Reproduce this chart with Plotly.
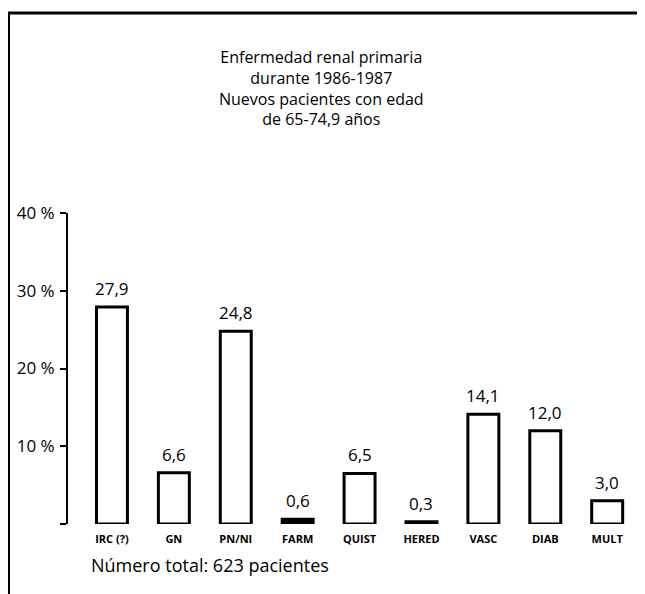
import plotly.graph_objects as go

# Datos
categorias = ["IRC (?)", "GN", "PN/NI", "FARM", "QUIST", "HERED", "VASC", "DIAB", "MULT"]
porcentajes = [27.9, 6.6, 24.8, 0.6, 6.5, 0.3, 14.1, 12.0, 3.0]
ticks_y = [0, 10, 20, 30, 40]
etiquetas_y = ["", "10 %", "20 %", "30 %", "40 %"]

lineas_titulo = ["Enfermedad renal primaria", "durante 1986-1987",
                 "Nuevos pacientes con edad", "de 65-74,9 años"]
nota = "Número total: 623 pacientes"

FUENTE = "'Open Sans', sans-serif"

# La página html tiene 8 px de margen en el body: la figura empieza en (8, 8)
OFF = 8
W, H = 645 - OFF, 594 - OFF
M_L, M_R, M_T, M_B = 68 - OFF, 5, 213 - OFF, 594 - 524
plot_w = W - M_L - M_R
plot_h = H - M_T - M_B


# posiciones en px de la página -> coordenadas "paper"
def px_x(x):
    return (x - OFF - M_L) / plot_w


def px_y(y):
    return (H - M_B - (y - OFF)) / plot_h


# las barras casi nulas se ven como un trazo negro grueso
colores = ["black" if v < 1 else "white" for v in porcentajes]

fig = go.Figure()

fig.add_trace(go.Bar(
    x=categorias,
    y=porcentajes,
    width=0.5,
    marker=dict(color=colores, line=dict(color="black", width=3)),
    cliponaxis=False,
    hoverinfo="skip",
))

anotaciones = []
# valores encima de cada barra
for cat, val in zip(categorias, porcentajes):
    anotaciones.append(dict(
        x=cat, y=val, xref="x", yref="y",
        text=f"{val:.1f}".replace(".", ","),
        xanchor="center", yanchor="bottom", yshift=5, showarrow=False,
        font=dict(family=FUENTE, size=17, color="black"),
    ))

# título en cuatro líneas
anotaciones.append(dict(
    text="<br>".join(lineas_titulo), x=px_x(321), y=px_y(88),
    xref="paper", yref="paper", xanchor="center", yanchor="middle",
    showarrow=False, font=dict(family=FUENTE, size=16, color="black"),
))

anotaciones.append(dict(
    text=nota, x=px_x(89), y=px_y(565), xref="paper", yref="paper",
    xanchor="left", yanchor="middle", showarrow=False,
    font=dict(family=FUENTE, size=18, color="black"),
))

fig.update_layout(
    width=W,
    height=H,
    margin=dict(l=M_L, r=M_R, t=M_T, b=M_B),
    paper_bgcolor="white",
    plot_bgcolor="white",
    showlegend=False,
    font=dict(family=FUENTE, color="black"),
    xaxis=dict(
        type="category",
        range=[-0.71, 8.53],
        showline=False,
        showgrid=False,
        zeroline=False,
        ticks="",
        ticklabelstandoff=7,
        tickfont=dict(family=FUENTE, size=11, color="black", weight="bold"),
    ),
    yaxis=dict(
        range=[0, 40],
        tickvals=ticks_y,
        ticktext=etiquetas_y,
        showline=True,
        linecolor="black",
        linewidth=2,
        ticks="outside",
        ticklen=6,
        tickwidth=2,
        tickcolor="black",
        showgrid=False,
        zeroline=False,
        ticklabelstandoff=2,
        tickfont=dict(family=FUENTE, size=17, color="black"),
    ),
    annotations=anotaciones,
    shapes=[
        # marco superior e izquierdo
        dict(type="line", xref="paper", yref="paper",
             x0=px_x(8), x1=px_x(645), y0=px_y(13), y1=px_y(13),
             line=dict(color="black", width=3)),
        dict(type="line", xref="paper", yref="paper",
             x0=px_x(9), x1=px_x(9), y0=px_y(13), y1=px_y(594),
             line=dict(color="black", width=2)),
    ],
)

fig.write_html("out.html")
